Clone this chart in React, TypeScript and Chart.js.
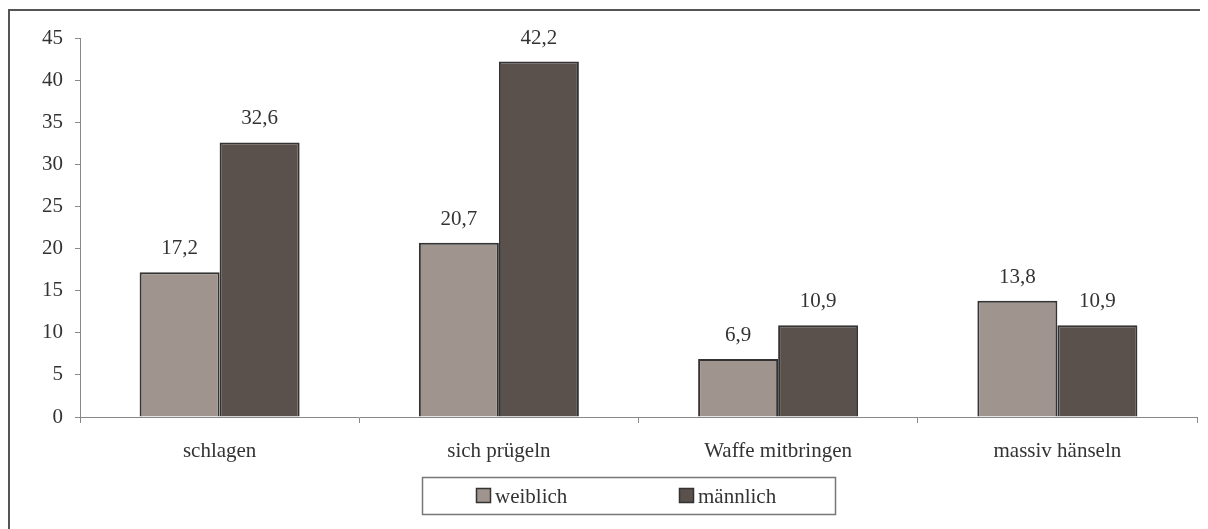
import React, { useEffect, useRef } from "react";
import { Chart, registerables } from "chart.js";

Chart.register(...registerables);

const categories = ["schlagen", "sich prügeln", "Waffe mitbringen", "massiv hänseln"];
const weiblich = [17.2, 20.7, 6.9, 13.8];
const maennlich = [32.6, 42.2, 10.9, 10.9];
const seriesNames = ["weiblich", "männlich"];
const colors = ["#a0948f", "#5a504c"];

const FONT = "'Liberation Serif', 'Times New Roman', serif";
const FS = 21;

const fmt = (v: number) => v.toFixed(1).replace(".", ",");

const decorPlugin = {
  id: "decor",
  afterDatasetsDraw(chart: any) {
    const ctx = chart.ctx;
    ctx.save();
    ctx.font = `${FS}px ${FONT}`;
    ctx.fillStyle = "#333";
    ctx.textAlign = "center";
    ctx.textBaseline = "alphabetic";
    chart.data.datasets.forEach((ds: any, i: number) => {
      const meta = chart.getDatasetMeta(i);
      meta.data.forEach((bar: any, j: number) => {
        ctx.fillText(fmt(ds.data[j]), bar.x, bar.y - 18);
      });
    });
    ctx.restore();
  },
  afterDraw(chart: any) {
    const ctx = chart.ctx;
    ctx.save();
    ctx.strokeStyle = "#555";
    ctx.lineWidth = 2;
    ctx.beginPath();
    ctx.moveTo(1, chart.height);
    ctx.lineTo(1, 2);
    ctx.lineTo(chart.width, 2);
    ctx.stroke();
    ctx.strokeStyle = "#777";
    ctx.lineWidth = 1.5;
    ctx.strokeRect(414.5, 469.5, 413, 37);
    const items = [
      { x: 468, tx: 487 },
      { x: 671, tx: 690 },
    ];
    ctx.font = `${FS}px ${FONT}`;
    ctx.textAlign = "left";
    ctx.textBaseline = "alphabetic";
    items.forEach((it, i) => {
      ctx.fillStyle = colors[i];
      ctx.fillRect(it.x, 480, 14, 14);
      ctx.strokeStyle = "#333";
      ctx.lineWidth = 1.5;
      ctx.strokeRect(it.x + 0.5, 480.5, 14, 14);
      ctx.fillStyle = "#333";
      ctx.fillText(seriesNames[i], it.tx, 495);
    });
    ctx.restore();
  },
};

export default function App() {
  const ref = useRef<HTMLCanvasElement>(null);
  useEffect(() => {
    const chart = new Chart(ref.current as HTMLCanvasElement, {
      type: "bar",
      data: {
        labels: categories,
        datasets: [
          {
            label: seriesNames[0],
            data: weiblich,
            backgroundColor: colors[0],
            borderColor: "#333",
            borderWidth: 2,
            barPercentage: 1,
            categoryPercentage: 0.573,
          },
          {
            label: seriesNames[1],
            data: maennlich,
            backgroundColor: colors[1],
            borderColor: "#333",
            borderWidth: 2,
            barPercentage: 1,
            categoryPercentage: 0.573,
          },
        ],
      },
      options: {
        animation: false,
        responsive: false,
        layout: { padding: { left: 0, top: 30, right: 11, bottom: 0 } },
        plugins: { legend: { display: false }, tooltip: { enabled: false } },
        scales: {
          x: {
            offset: true,
            grid: {
              offset: true,
              drawOnChartArea: false,
              drawTicks: true,
              tickLength: 6,
              color: "#888",
            },
            border: { color: "#888", width: 1 },
            ticks: {
              font: { family: FONT, size: FS },
              color: "#333",
              padding: 16,
            },
            afterFit: (s: any) => {
              s.height = 112;
            },
          },
          y: {
            min: 0,
            max: 45,
            ticks: {
              stepSize: 5,
              font: { family: FONT, size: FS },
              color: "#333",
              padding: 12,
            },
            grid: {
              drawOnChartArea: false,
              drawTicks: true,
              tickLength: 5,
              color: "#888",
            },
            border: { color: "#888", width: 1 },
            afterFit: (s: any) => {
              s.width = 72;
            },
          },
        },
      },
      plugins: [decorPlugin],
    });
    return () => chart.destroy();
  }, []);
  return (
    <canvas
      ref={ref}
      width={1200}
      height={521}
      style={{ display: "block", width: 1200, height: 521 }}
    />
  );
}
